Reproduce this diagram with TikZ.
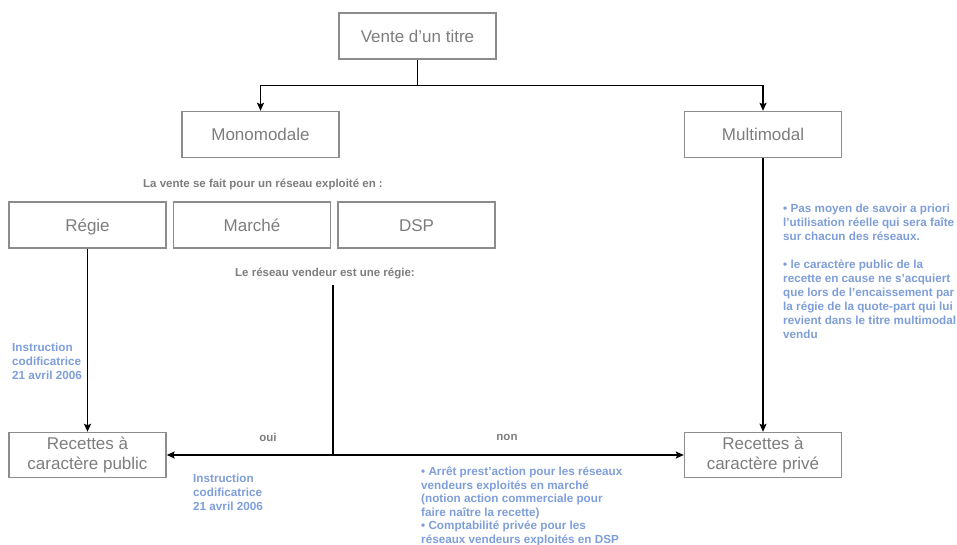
\documentclass[tikz,border=0pt]{standalone}
\usepackage{fontspec}
\setmainfont{Liberation Sans}
\usepackage{xcolor,tikz}
\usetikzlibrary{calc,positioning,arrows,arrows.meta}
\tikzset{>=stealth}
\definecolor{boxgray}{RGB}{140,140,140}
\definecolor{txtgray}{RGB}{125,125,125}
\definecolor{noteblue}{RGB}{126,158,218}
\tikzset{
  bloc/.style={draw=boxgray,line width=1.4pt,minimum width=157pt,minimum height=46pt,
    inner sep=0pt,text=txtgray,align=center,font=\fontsize{17}{20.5}\selectfont},
  simple/.style={text height=12.2pt,text depth=0pt},
  remarque/.style={text=noteblue,anchor=north west,inner sep=0pt,align=left,
    font=\fontsize{11.7}{14}\selectfont\bfseries},
  legende/.style={text=txtgray,inner sep=0pt,font=\fontsize{11.5}{14}\selectfont\bfseries},
  fleche/.style={-{Stealth[length=8pt,width=7pt,inset=1.5pt]},line width=1.4pt,black}
}
\begin{document}
\begin{tikzpicture}[x=1pt,y=-1pt]
\useasboundingbox (0,0) rectangle (957,545);
% boites
\node[bloc,simple] (vente) at (417.5,36) {Vente d'un titre};
\node[bloc,simple] (mono) at (260.5,134.5) {Monomodale};
\node[bloc,simple] (multi) at (763,134.5) {Multimodal};
\node[bloc,simple] (regie) at (87.5,225) {Régie};
\node[bloc,simple] (marche) at (252,225) {Marché};
\node[bloc,simple] (dsp) at (416.5,225) {DSP};
\node[bloc,minimum height=45pt] (public) at (87.5,455) {Recettes à\\caractère public};
\node[bloc,minimum height=45pt] (prive) at (763,455) {Recettes à\\caractère privé};
% textes
\node[legende] (exploite) at (263,184) {La vente se fait pour un réseau exploité en :};
\node[legende] (question) at (325,274) {Le réseau vendeur est une régie:};
\node[legende] (oui) at (268,437) {oui};
\node[legende] (non) at (507,437) {non};
\node[remarque] (notemulti) at (783,204) {• Pas moyen de savoir a priori\\
l’utilisation réelle qui sera faîte\\
sur chacun des réseaux.\\[14pt]
• le caractère public de la\\
recette en cause ne s’acquiert\\
que lors de l’encaissement par\\
la régie de la quote-part qui lui\\
revient dans le titre multimodal\\
vendu};
\node[remarque] (noteregie) at (12,343) {Instruction\\codificatrice\\21 avril 2006};
\node[remarque] (noteoui) at (193,474) {Instruction\\codificatrice\\21 avril 2006};
\node[remarque,font=\fontsize{11.7}{13.5}\selectfont\bfseries] (notenon) at (421,467) {• Arrêt prest’action pour les réseaux\\
vendeurs exploités en marché\\
(notion action commerciale pour\\
faire naître la recette)\\
• Comptabilité privée pour les\\
réseaux vendeurs exploités en DSP};
% liaisons
\coordinate (depart) at (333,285);
\coordinate (jonction) at (333,455);
\draw[fleche] (vente.south) -- ++(0,26) -| (mono.north);
\draw[fleche] (vente.south) -- ++(0,26) -| (multi.north);
\draw[fleche] (regie.south) -- (public.north);
\draw[fleche] (multi.south) -- (prive.north);
\draw[line width=1.4pt] (depart) -- (jonction);
\draw[fleche] (jonction) -- (public.east);
\draw[fleche] (jonction) -- (prive.west);
\end{tikzpicture}
\end{document}
